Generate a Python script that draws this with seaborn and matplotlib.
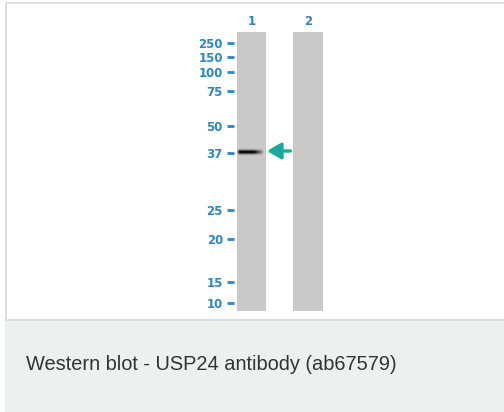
import numpy as np
import pandas as pd
import matplotlib
matplotlib.use("Agg")
import matplotlib.pyplot as plt
from matplotlib.patches import Rectangle
import seaborn as sns

# ---- data ----
lanes = ["1", "2"]
marker_labels = ["250", "150", "100", "75", "50", "37", "25", "20", "15", "10"]
# migration distance from top of gel (px-like units)
marker_pos = [11, 25, 40, 59, 94, 121, 178, 207, 250, 271]
gel_length = 279
band_lane = 0
band_pos = 120
caption = "Western blot - USP24 antibody (ab67579)"

W, H = 504, 412
sns.set_theme(style="white")
plt.rcParams["font.family"] = ["DejaVu Sans"]

fig = plt.figure(figsize=(W / 100, H / 100), dpi=100)
fig.patch.set_facecolor("white")

def fx(px):
    return px / W

def fy(py):
    return 1 - py / H

# frame and caption panel
fig.patches.append(Rectangle((fx(5), fy(412)), fx(504) - fx(5), (412 - 319) / H,
                             transform=fig.transFigure, facecolor="#eef0ef", edgecolor="none", zorder=0))
fig.patches.append(Rectangle((fx(5), fy(321)), fx(504) - fx(5), 2 / H,
                             transform=fig.transFigure, facecolor="#dcdedd", edgecolor="none", zorder=1))
fig.patches.append(Rectangle((fx(5), fy(319)), 2 / W, (319 - 2) / H,
                             transform=fig.transFigure, facecolor="#dddddd", edgecolor="none", zorder=1))
fig.patches.append(Rectangle((fx(5), fy(4)), fx(504) - fx(5), 2 / H,
                             transform=fig.transFigure, facecolor="#dddddd", edgecolor="none", zorder=1))

# blot axes
left_px, right_px, top_px, bot_px = 234, 326, 32, 311
ax = fig.add_axes([fx(left_px), fy(bot_px), (right_px - left_px) / W, (bot_px - top_px) / H])
ax.set_facecolor("none")

df = pd.DataFrame({"lane": lanes, "length": [gel_length] * len(lanes)})
sns.barplot(data=df, x="lane", y="length", color="#c9c9c9", width=0.522,
            saturation=1, ax=ax, edgecolor="none")

px_per_unit = 56.5
ax.set_xlim(-(251.5 - left_px) / px_per_unit, (right_px - 251.5) / px_per_unit)
ax.set_ylim(gel_length, 0)
for s in ax.spines.values():
    s.set_visible(False)

ax.set_yticks(marker_pos)
ax.set_yticklabels(marker_labels, fontweight="bold")
ax.tick_params(axis="y", which="both", left=True, length=5, width=2, color="#2d86c6",
               labelcolor="#2d86c6", labelsize=8.5, pad=3, direction="out")
ax.xaxis.tick_top()
ax.set_xticks(range(len(lanes)))
ax.set_xticklabels(lanes, fontweight="bold")
ax.tick_params(axis="x", length=0, labelsize=8.5, labelcolor="#3a82b4", pad=3)
ax.set_xlabel("")
ax.set_ylabel("")

# band with gradient
half_w = 0.522 / 2
bx = np.linspace(band_lane - half_w, band_lane + half_w, 120)
by = np.linspace(band_pos - 4, band_pos + 4, 40)
u = (bx - (band_lane - half_w)) / (2 * half_w)
ax_prof = np.clip(u / 0.08, 0, 1) * np.clip((0.9 - u) / 0.35, 0, 1) ** 0.8
ax_prof = np.maximum(ax_prof, 0)
ay_prof = np.exp(-((by - band_pos) ** 2) / (2 * 1.4 ** 2))
alpha = np.outer(ay_prof, ax_prof)
img = np.zeros((len(by), len(bx), 4))
img[..., 3] = np.clip(alpha * 1.1, 0, 1)
ax.imshow(img, extent=(bx[0], bx[-1], by[-1], by[0]), aspect="auto", zorder=3,
          interpolation="bilinear")
ax.set_xlim(-(251.5 - left_px) / px_per_unit, (right_px - 251.5) / px_per_unit)
ax.set_ylim(gel_length, 0)

# arrow pointing at band
ax.annotate("", xy=(band_lane + 0.275, band_pos - 1), xytext=(band_lane + 0.69, band_pos - 1),
            arrowprops=dict(arrowstyle="-|>,head_length=0.6,head_width=0.35", color="#1ba99b",
                            lw=2.4, mutation_scale=14, shrinkA=0, shrinkB=0))

fig.text(fx(26), fy(370), caption, fontsize=14.4, color="#333333",
         family=["Liberation Sans", "DejaVu Sans"], va="baseline", ha="left")

fig.savefig("out.png", dpi=100)
